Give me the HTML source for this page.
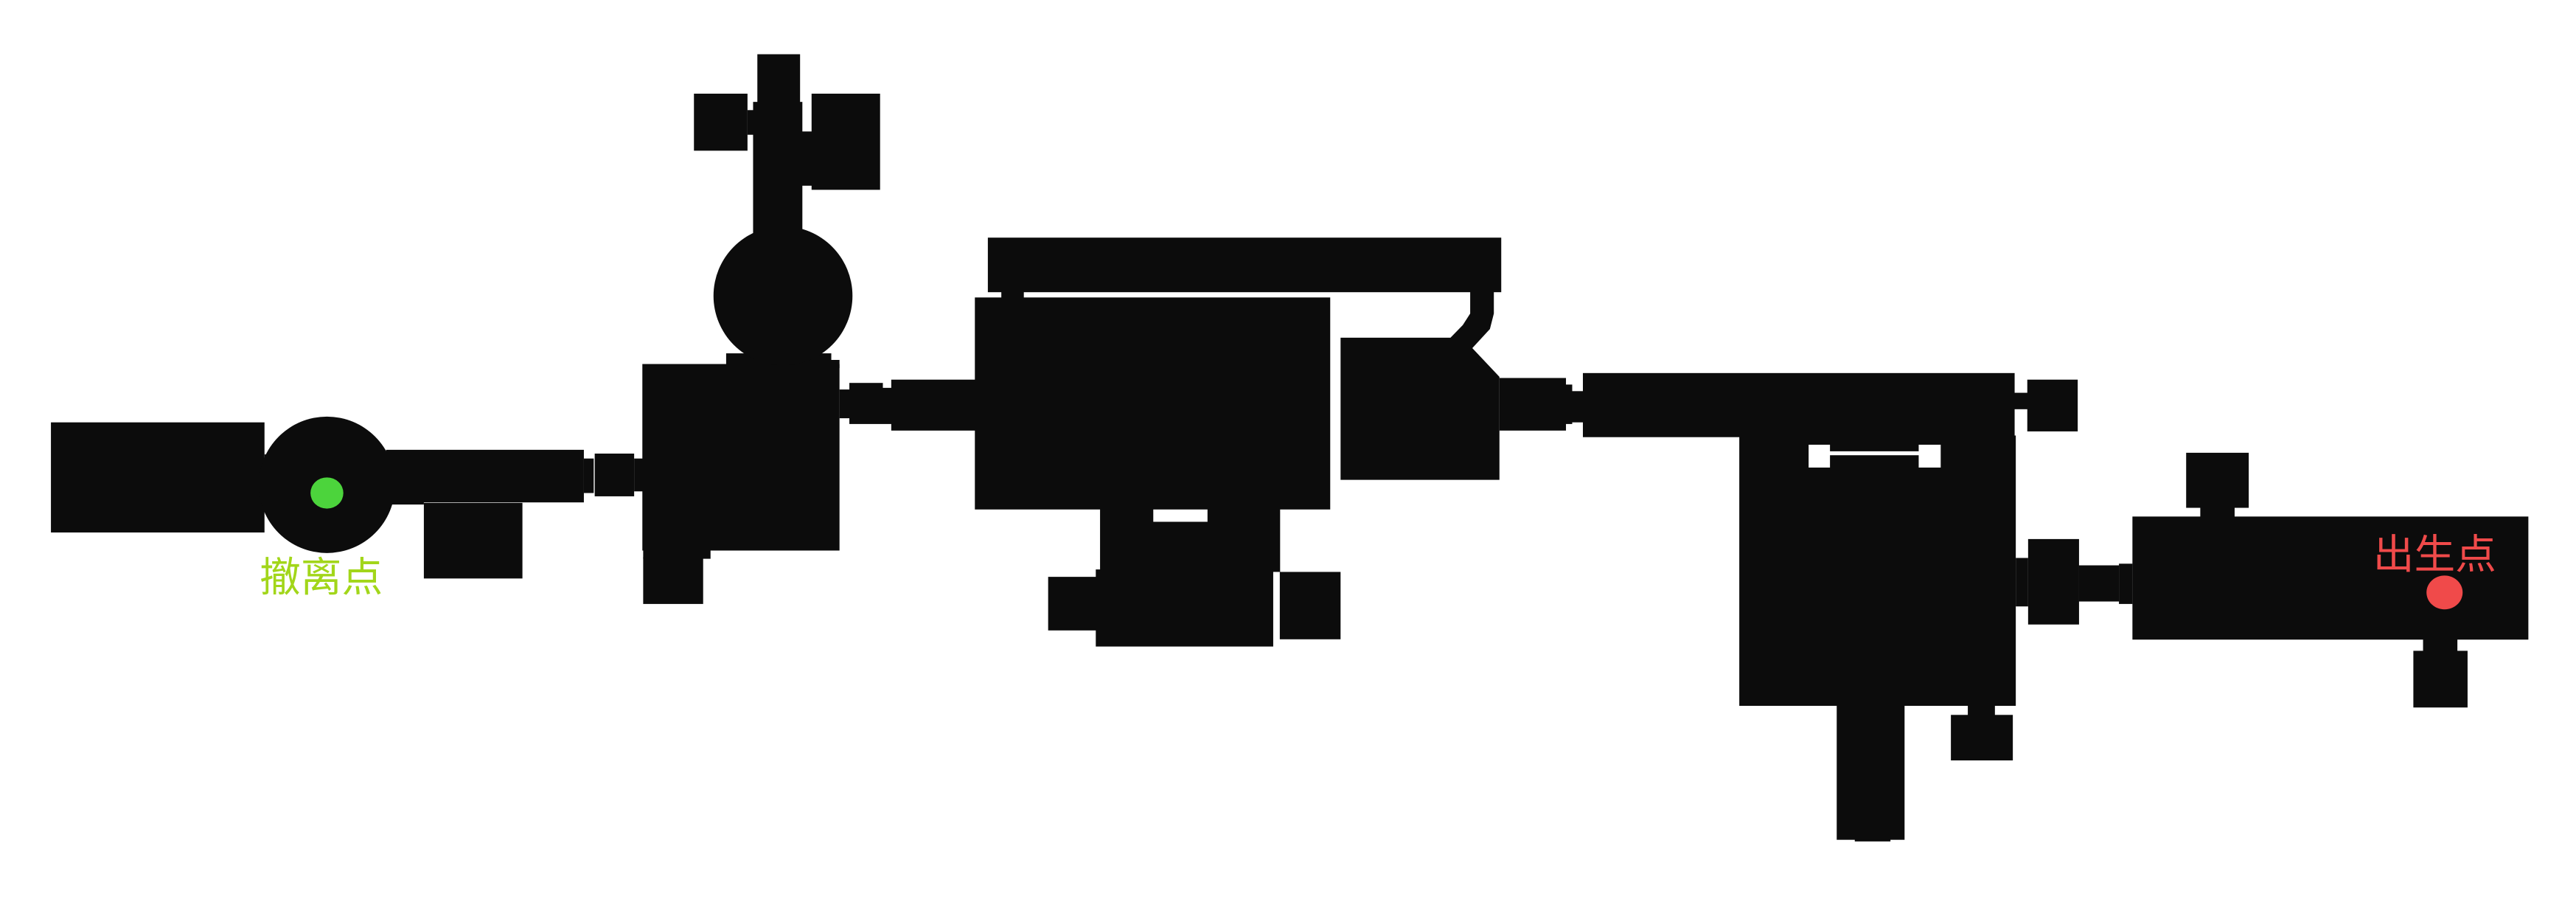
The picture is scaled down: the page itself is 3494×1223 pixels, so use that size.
<!DOCTYPE html>
<html><head><meta charset="utf-8"><style>
html,body{margin:0;padding:0;background:#fff;width:3494px;height:1223px;overflow:hidden}
svg{display:block}
text{font-family:"Liberation Sans","Noto Sans CJK SC",sans-serif}
</style></head><body>
<svg width="3494" height="1223" viewBox="0 0 1568 548.85" preserveAspectRatio="none" xmlns="http://www.w3.org/2000/svg">
<g fill="#0c0c0c">
<!-- left -->
<rect x="31" y="257" width="130" height="67"/>
<rect x="161" y="276.5" width="8" height="34.5"/>
<circle cx="199" cy="295" r="41.5"/>
<rect x="235" y="273.7" width="120.4" height="32"/>
<rect x="235" y="300" width="23" height="7"/>
<rect x="258" y="306" width="60" height="46"/>
<rect x="355.4" y="279" width="6" height="21"/>
<rect x="362" y="276" width="24" height="26"/>
<rect x="386" y="279" width="5.5" height="20"/>
<!-- central block -->
<rect x="391" y="221.5" width="120" height="113.5"/>
<rect x="442" y="215" width="64" height="7"/>
<rect x="500" y="219" width="11" height="5"/>
<rect x="391.5" y="334" width="41" height="6"/>
<rect x="391.5" y="339" width="36.5" height="28.5"/>
<rect x="511" y="237" width="6.5" height="17.5"/>
<rect x="517" y="233" width="20.4" height="25"/>
<!-- top circle & stem -->
<circle cx="476.6" cy="180" r="42.3"/>
<rect x="458.4" y="62" width="30" height="80"/>
<rect x="461" y="33" width="26" height="30"/>
<rect x="422.4" y="57" width="32.6" height="34.7"/>
<rect x="455" y="67" width="4" height="15"/>
<rect x="494" y="57" width="41.7" height="58.5"/>
<rect x="488" y="80" width="6.5" height="33"/>
<!-- middle -->
<rect x="537.4" y="236" width="5.5" height="22"/>
<rect x="542.5" y="231" width="51" height="31"/>
<rect x="593.4" y="181" width="216.3" height="129"/>
<rect x="601.3" y="144.6" width="312.5" height="33.2"/>
<rect x="609.5" y="177" width="13.7" height="5"/>
<rect x="669.6" y="309.5" width="109.6" height="38.5"/>
<rect x="638" y="351" width="31.6" height="32.6"/>
<rect x="667" y="346.5" width="108" height="46.9"/>
<rect x="779" y="348" width="37" height="41"/>
<polygon points="816,205.5 882.9,205.5 890.4,197.8 894.9,190.8 894.9,177 909.3,177 909.3,190.8 906.9,200.2 896.2,211.8 912.7,229.3 912.7,292 816,292"/>
<rect x="912.7" y="230" width="40.5" height="32"/>
<rect x="953" y="234" width="4" height="24"/>
<rect x="956.7" y="238" width="7" height="19"/>
<rect x="963.5" y="227" width="262.8" height="39"/>
<!-- right-center block -->
<rect x="1226" y="239" width="8.5" height="10"/>
<rect x="1234" y="231" width="30.7" height="31.5"/>
<rect x="1058.7" y="265" width="168.3" height="164.5"/>
<rect x="1118" y="429" width="41.3" height="82"/>
<rect x="1129" y="510" width="21.7" height="2"/>
<rect x="1197.8" y="429" width="16.5" height="7"/>
<rect x="1187.5" y="435" width="37.7" height="27.7"/>
<rect x="1227" y="339.5" width="7.5" height="29.5"/>
<rect x="1234.5" y="328" width="31" height="52"/>
<rect x="1265.4" y="344" width="24.4" height="22"/>
<!-- right room -->
<rect x="1289.8" y="343" width="8.2" height="24.5"/>
<rect x="1298" y="314.3" width="241" height="74.9"/>
<rect x="1330.7" y="275.5" width="38.1" height="33.5"/>
<rect x="1339.3" y="308" width="20.9" height="7"/>
<rect x="1469" y="396" width="33" height="34.5"/>
<rect x="1474.9" y="388.5" width="20.9" height="8"/>
</g>
<!-- white holes -->
<g fill="#fff">
<rect x="702" y="310" width="33" height="7.5"/>
<rect x="1100.9" y="270.6" width="13" height="13.9"/>
<rect x="1167.9" y="270.6" width="13.4" height="13.9"/>
<rect x="1113.6" y="274.6" width="54.5" height="2.4"/>
</g>
<ellipse cx="199" cy="300" rx="10" ry="9.5" fill="#4cd43c"/>
<ellipse cx="1488" cy="360.5" rx="11" ry="10.3" fill="#f04a4a"/>
<text x="158" y="360" font-size="25" fill="#a2d61a">撤离点</text>
<text x="1444.5" y="346" font-size="25" fill="#f04a4a">出生点</text>
</svg>
</body></html>
